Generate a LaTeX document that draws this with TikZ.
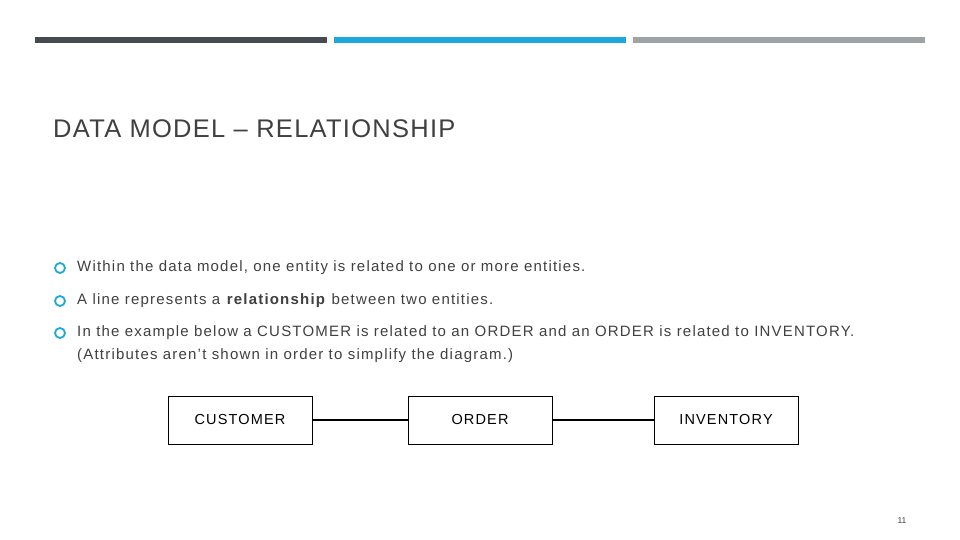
\documentclass[tikz,border=0pt]{standalone}
\usepackage{fontspec}
\setmainfont{Liberation Sans}
\newfontfamily\spaced[LetterSpace=8]{Liberation Sans}
\newfontfamily\tspaced[LetterSpace=5]{Liberation Sans}
\definecolor{barA}{HTML}{454B50}
\definecolor{barB}{HTML}{1CA8DD}
\definecolor{barC}{HTML}{9EA3A6}
\definecolor{txt}{HTML}{404040}
\begin{document}
\begin{tikzpicture}[x=1pt,y=-1pt,
  ent/.style={draw=black,line width=0.8pt,minimum width=144pt,minimum height=48pt,font=\spaced\fontsize{14.5}{17}\selectfont,text=black},
  bul/.style={draw=barB,line width=1.8pt,circle,inner sep=0pt,minimum size=10pt},
  btxt/.style={anchor=west,font=\spaced\fontsize{15}{18}\selectfont,text=txt,inner sep=0pt}]
\useasboundingbox (0,0) rectangle (960,540);
\fill[barA] (35,37) rectangle (327,43);
\fill[barB] (334,37) rectangle (626,43);
\fill[barC] (633,37) rectangle (925,43);
\node[anchor=west,inner sep=0pt,font=\tspaced\fontsize{25.5}{30}\selectfont,text=txt] (title) at (53,129) {DATA MODEL – RELATIONSHIP};
\node[bul] (b1) at (60,268) {};
\node[btxt] (t1) at (77,268) {Within the data model, one entity is related to one or more entities.};
\node[bul] (b2) at (60,301) {};
\node[btxt] (t2) at (77,301) {A line represents a \textbf{relationship} between two entities.};
\node[bul] (b3) at (60,333) {};
\node[btxt] (t3) at (77,333) {In the example below a CUSTOMER is related to an ORDER and an ORDER is related to INVENTORY.};
\node[btxt] (t4) at (77,356) {(Attributes aren’t shown in order to simplify the diagram.)};
\node[ent] (c) at (240,420) {CUSTOMER};
\node[ent] (o) at (480,420) {ORDER};
\node[ent] (i) at (726,420) {INVENTORY};
\draw[line width=1.2pt] (c) -- (o);
\draw[line width=1.2pt] (o) -- (i);
\node[font=\fontsize{8.5}{10}\selectfont,text=txt] (pg) at (902,521) {11};
\end{tikzpicture}
\end{document}
